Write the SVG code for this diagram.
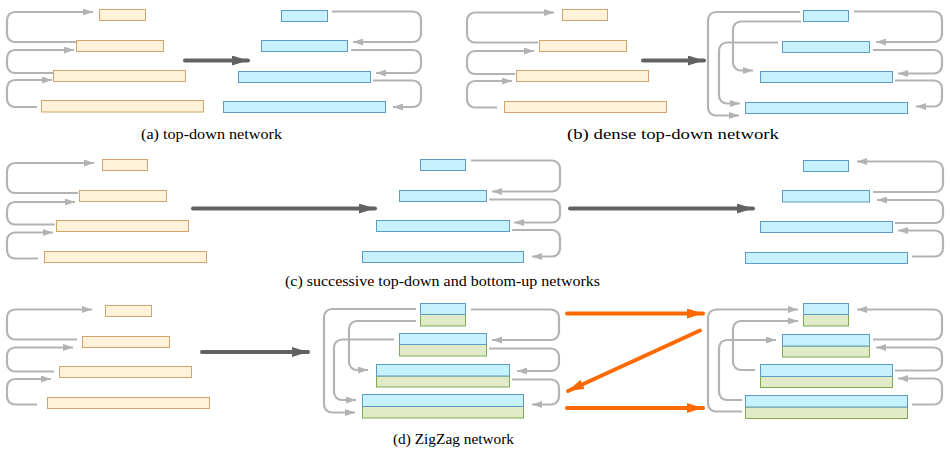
<svg xmlns="http://www.w3.org/2000/svg" width="950" height="452" viewBox="0 0 950 452">
<defs>
<style>
.o{fill:#fff2d8;stroke:#d2a56c;stroke-width:1}
.b{fill:#c6f2ff;stroke:#5f9bc6;stroke-width:1}
.g{fill:#e1ebc7;stroke:#7fab52;stroke-width:1}
.c{fill:none;stroke:#b3b3b3;stroke-width:2.2;marker-end:url(#ga)}
.d{fill:none;stroke:#626262;stroke-width:4;stroke-linecap:round;marker-end:url(#da)}
.r{fill:none;stroke:#ff6a00;stroke-width:4;stroke-linecap:round;marker-end:url(#ra)}
.t{font-family:"Liberation Serif","Times New Roman",serif;font-size:15px;fill:#000;text-anchor:middle}
</style>
<marker id="ga" markerUnits="userSpaceOnUse" markerWidth="11" markerHeight="7" refX="10" refY="3.5" orient="auto"><path d="M0,0 L10,3.5 L0,7 z" fill="#b3b3b3"/></marker>
<marker id="da" markerUnits="userSpaceOnUse" markerWidth="17" markerHeight="10" refX="16" refY="5" orient="auto"><path d="M0,0 L16,5 L0,10 z" fill="#626262"/></marker>
<marker id="ra" markerUnits="userSpaceOnUse" markerWidth="17" markerHeight="10" refX="16" refY="5" orient="auto"><path d="M0,0 L16,5 L0,10 z" fill="#ff6a00"/></marker>
</defs>
<rect width="950" height="452" fill="#fff"/>

<g id="connectors">
<!-- (a) left -->
<path class="c" d="M77 42 H15 A8 8 0 0 1 7 34 V20 A8 8 0 0 1 15 12 H93"/>
<path class="c" d="M53 73 H15 A8 8 0 0 1 7 65 V58 A8 8 0 0 1 15 50 H74"/>
<path class="c" d="M37 107 H15 A8 8 0 0 1 7 99 V88 A8 8 0 0 1 15 80 H52"/>
<!-- (a) right -->
<path class="c" d="M332 11.5 H413 A8 8 0 0 1 421 19.5 V34 A8 8 0 0 1 413 42 H353"/>
<path class="c" d="M351 50 H413 A8 8 0 0 1 421 58 V65 A8 8 0 0 1 413 73 H376"/>
<path class="c" d="M373 80.5 H413 A8 8 0 0 1 421 88.5 V99 A8 8 0 0 1 413 107 H393"/>
<path class="d" d="M185 60.5 H248"/>
<!-- (b) left -->
<path class="c" d="M538 42.5 H475 A8 8 0 0 1 467 34.5 V20.5 A8 8 0 0 1 475 12.5 H554"/>
<path class="c" d="M515 74 H475 A8 8 0 0 1 467 66 V59 A8 8 0 0 1 475 51 H534"/>
<path class="c" d="M497 107.5 H475 A8 8 0 0 1 467 99.5 V89 A8 8 0 0 1 475 81 H512"/>
<path class="d" d="M643 60.5 H704"/>
<!-- (b) right -->
<path class="c" d="M854 11.5 H934 A8 8 0 0 1 942 19.5 V34 A8 8 0 0 1 934 42 H876"/>
<path class="c" d="M873 50 H934 A8 8 0 0 1 942 58 V65.5 A8 8 0 0 1 934 73.5 H898"/>
<path class="c" d="M895 80.5 H934 A8 8 0 0 1 942 88.5 V98.5 A8 8 0 0 1 934 106.5 H916"/>
<path class="c" d="M800 12 H716 A8 8 0 0 0 708 20 V107.5 A8 8 0 0 0 716 115.5 H739"/>
<path class="c" d="M801 21.5 H741 A8 8 0 0 0 733 29.5 V62.5 A8 8 0 0 0 741 70.5 H753"/>
<path class="c" d="M778 42.5 H727 A8 8 0 0 0 719 50.5 V95.5 A8 8 0 0 0 727 103.5 H740"/>
<!-- (c) left -->
<path class="c" d="M78 193 H15 A8 8 0 0 1 7 185 V171 A8 8 0 0 1 15 163 H94"/>
<path class="c" d="M55 224.5 H15 A8 8 0 0 1 7 216.5 V210 A8 8 0 0 1 15 202 H75"/>
<path class="c" d="M38 258.5 H15 A8 8 0 0 1 7 250.5 V240.5 A8 8 0 0 1 15 232.5 H53"/>
<path class="d" d="M193 208.5 H375"/>
<!-- (c) middle -->
<path class="c" d="M471 160.5 H552 A8 8 0 0 1 560 168.5 V183.5 A8 8 0 0 1 552 191.5 H492"/>
<path class="c" d="M489 199.5 H552 A8 8 0 0 1 560 207.5 V214.5 A8 8 0 0 1 552 222.5 H514"/>
<path class="c" d="M512 230 H552 A8 8 0 0 1 560 238 V248.5 A8 8 0 0 1 552 256.5 H532"/>
<path class="d" d="M570 208.5 H753"/>
<!-- (c) right -->
<path class="c" d="M873 192 H935 A8 8 0 0 0 943 184 V169.5 A8 8 0 0 0 935 161.5 H857"/>
<path class="c" d="M895 223 H935 A8 8 0 0 0 943 215 V208 A8 8 0 0 0 935 200 H877"/>
<path class="c" d="M912 256.5 H935 A8 8 0 0 0 943 248.5 V238.5 A8 8 0 0 0 935 230.5 H898"/>
<!-- (d) left -->
<path class="c" d="M77 339.5 H15 A8 8 0 0 1 7 331.5 V317.5 A8 8 0 0 1 15 309.5 H92"/>
<path class="c" d="M54 371.5 H15 A8 8 0 0 1 7 363.5 V355.5 A8 8 0 0 1 15 347.5 H73"/>
<path class="c" d="M37 404.5 H15 A8 8 0 0 1 7 396.5 V387 A8 8 0 0 1 15 379 H51"/>
<path class="d" d="M202 352 H308"/>
<!-- (d) middle -->
<path class="c" d="M471 309.5 H551 A8 8 0 0 1 559 317.5 V332 A8 8 0 0 1 551 340 H492"/>
<path class="c" d="M489 348.5 H551 A8 8 0 0 1 559 356.5 V363 A8 8 0 0 1 551 371 H517"/>
<path class="c" d="M512 379.5 H551 A8 8 0 0 1 559 387.5 V396.5 A8 8 0 0 1 551 404.5 H532"/>
<path class="c" d="M416 309 H332 A8 8 0 0 0 324 317 V404.5 A8 8 0 0 0 332 412.5 H355"/>
<path class="c" d="M416 321 H357 A8 8 0 0 0 349 329 V362 A8 8 0 0 0 357 370 H368"/>
<path class="c" d="M394 339.5 H342 A8 8 0 0 0 334 347.5 V392 A8 8 0 0 0 342 400 H356"/>
<!-- (d) right -->
<path class="c" d="M873 339.5 H934 A8 8 0 0 0 942 331.5 V317.5 A8 8 0 0 0 934 309.5 H857"/>
<path class="c" d="M895 370.5 H934 A8 8 0 0 0 942 362.5 V355.5 A8 8 0 0 0 934 347.5 H876"/>
<path class="c" d="M912 404.5 H934 A8 8 0 0 0 942 396.5 V386.5 A8 8 0 0 0 934 378.5 H898"/>
<path class="c" d="M742 411.5 H716 A8 8 0 0 1 708 403.5 V317.5 A8 8 0 0 1 716 309.5 H798"/>
<path class="c" d="M755 370 H741 A8 8 0 0 1 733 362 V329 A8 8 0 0 1 741 321 H798"/>
<path class="c" d="M742 400 H727 A8 8 0 0 1 719 392 V348 A8 8 0 0 1 727 340 H776"/>
<!-- zigzag orange -->
<path class="r" d="M567 313.5 H703"/>
<path class="r" d="M700 330.5 L568 391"/>
<path class="r" d="M567 408 H703"/>
</g>

<g id="a-left">
<rect class="o" x="99.5" y="9.5" width="46" height="11"/>
<rect class="o" x="76.5" y="40.5" width="87" height="11"/>
<rect class="o" x="53.5" y="70.5" width="132" height="11"/>
<rect class="o" x="41.5" y="100.5" width="162" height="11.5"/>
</g>
<g id="a-right">
<rect class="b" x="281.5" y="10.5" width="46" height="11"/>
<rect class="b" x="261.5" y="40.5" width="86" height="11"/>
<rect class="b" x="238.5" y="71.5" width="132" height="11"/>
<rect class="b" x="223.5" y="101.5" width="162" height="11"/>
</g>
<g id="b-left">
<rect class="o" x="562.5" y="9.5" width="45" height="11"/>
<rect class="o" x="539.5" y="40.5" width="87" height="11"/>
<rect class="o" x="516.5" y="70.5" width="132" height="11"/>
<rect class="o" x="504.5" y="101.5" width="162" height="11"/>
</g>
<g id="b-right">
<rect class="b" x="803.5" y="10.5" width="45" height="11"/>
<rect class="b" x="782.5" y="41.5" width="87" height="11"/>
<rect class="b" x="760.5" y="71.5" width="132" height="11"/>
<rect class="b" x="745.5" y="102.5" width="162" height="11"/>
</g>
<g id="c-left">
<rect class="o" x="102.5" y="159.5" width="45" height="11"/>
<rect class="o" x="79.5" y="190.5" width="87" height="11"/>
<rect class="o" x="56.5" y="220.5" width="132" height="11"/>
<rect class="o" x="44.5" y="251.5" width="162" height="11"/>
</g>
<g id="c-middle">
<rect class="b" x="420.5" y="159.5" width="45" height="11"/>
<rect class="b" x="399.5" y="190.5" width="87" height="11"/>
<rect class="b" x="376.5" y="220.5" width="133" height="11"/>
<rect class="b" x="362.5" y="251.5" width="161" height="11"/>
</g>
<g id="c-right">
<rect class="b" x="803.5" y="160.5" width="45" height="11"/>
<rect class="b" x="782.5" y="190.5" width="87" height="11.5"/>
<rect class="b" x="760.5" y="221.5" width="132" height="11"/>
<rect class="b" x="745.5" y="252.5" width="162" height="11"/>
</g>
<g id="d-left">
<rect class="o" x="105.5" y="305.5" width="46" height="11"/>
<rect class="o" x="82.5" y="336.5" width="87" height="11"/>
<rect class="o" x="59.5" y="366.5" width="132" height="11"/>
<rect class="o" x="47.5" y="397.5" width="162" height="11"/>
</g>
<g id="d-middle">
<rect class="g" x="420.5" y="314.5" width="45" height="11.5"/>
<rect class="b" x="420.5" y="303.5" width="45" height="11"/>
<rect class="g" x="399.5" y="344.5" width="87" height="11.5"/>
<rect class="b" x="399.5" y="333.5" width="87" height="11"/>
<rect class="g" x="376.5" y="376" width="133" height="11"/>
<rect class="b" x="376.5" y="364.5" width="133" height="11.5"/>
<rect class="g" x="362.5" y="406.5" width="161" height="11.5"/>
<rect class="b" x="362.5" y="394.5" width="161" height="12"/>
</g>
<g id="d-right">
<rect class="g" x="803.5" y="314.5" width="45" height="11.5"/>
<rect class="b" x="803.5" y="303.5" width="45" height="11"/>
<rect class="g" x="782.5" y="346" width="87" height="11"/>
<rect class="b" x="782.5" y="334.5" width="87" height="11.5"/>
<rect class="g" x="760.5" y="376.5" width="132" height="11"/>
<rect class="b" x="760.5" y="364.5" width="132" height="12"/>
<rect class="g" x="745.5" y="407" width="162" height="11.5"/>
<rect class="b" x="745.5" y="395.5" width="162" height="11.5"/>
</g>

<g id="captions">
<text class="t" x="211.5" y="139" textLength="141" lengthAdjust="spacingAndGlyphs">(a) top-down network</text>
<text class="t" x="673" y="139" textLength="212" lengthAdjust="spacingAndGlyphs">(b) dense top-down network</text>
<text class="t" x="442.5" y="285.5" textLength="315" lengthAdjust="spacingAndGlyphs">(c) successive top-down and bottom-up networks</text>
<text class="t" x="453.5" y="444" textLength="121" lengthAdjust="spacingAndGlyphs">(d) ZigZag network</text>
</g>
</svg>
